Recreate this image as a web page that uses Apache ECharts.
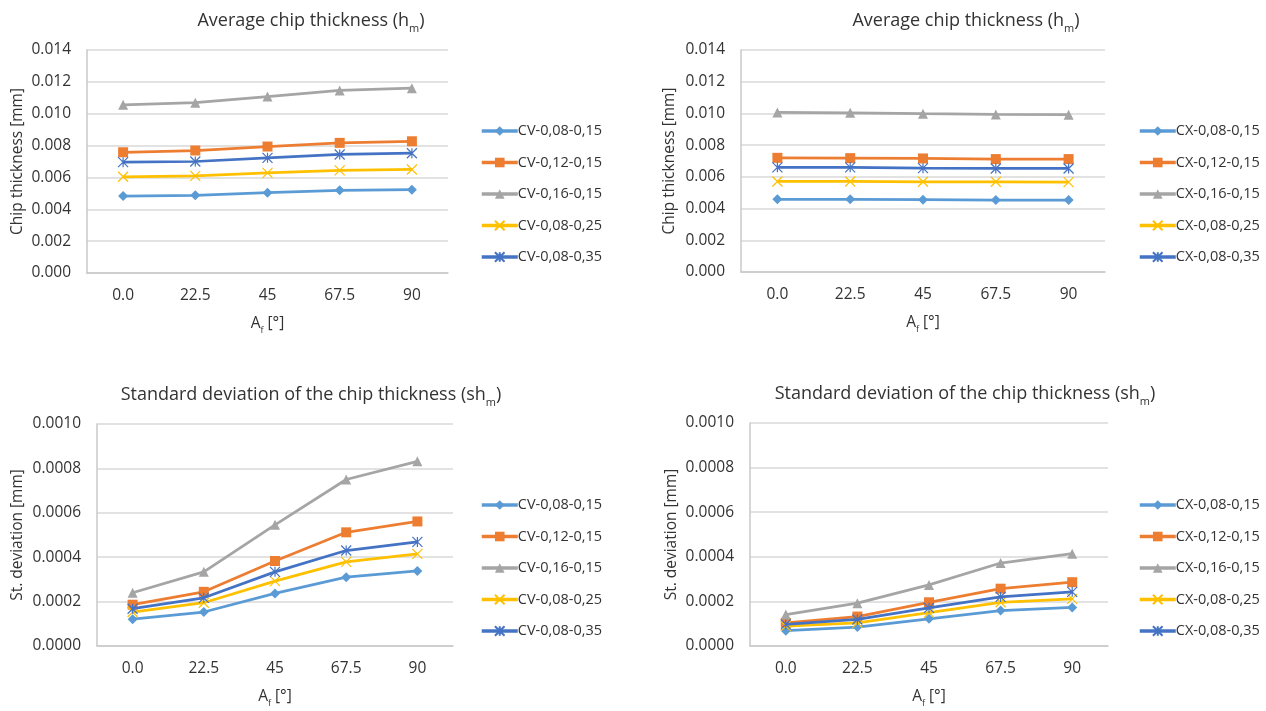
<!DOCTYPE html>
<html>
<head>
<meta charset="utf-8">
<title>Chip thickness</title>
<script src="https://cdn.jsdelivr.net/npm/echarts@6/dist/echarts.min.js"></script>
<style>
  html, body { margin: 0; padding: 0; background: #fff; }
  #chart { width: 1266px; height: 711px; }
</style>
</head>
<body>
<div id="chart"></div>
<script>
// --- data ----------------------------------------------------------------
const categories = ["0.0", "22.5", "45", "67.5", "90"];

const cvNames = ["CV-0,08-0,15", "CV-0,12-0,15", "CV-0,16-0,15", "CV-0,08-0,25", "CV-0,08-0,35"];
const cxNames = ["CX-0,08-0,15", "CX-0,12-0,15", "CX-0,16-0,15", "CX-0,08-0,25", "CX-0,08-0,35"];

// average chip thickness hm [mm], CV
const cvAvg0815 = [0.00483, 0.00488, 0.00504, 0.00519, 0.00523];
const cvAvg1215 = [0.00758, 0.00769, 0.00794, 0.00817, 0.00827];
const cvAvg1615 = [0.01056, 0.01069, 0.01108, 0.01146, 0.0116];
const cvAvg0825 = [0.00604, 0.0061, 0.00629, 0.00644, 0.0065];
const cvAvg0835 = [0.00696, 0.007, 0.00723, 0.00744, 0.00752];

// average chip thickness hm [mm], CX
const cxAvg0815 = [0.00458, 0.00458, 0.00456, 0.00454, 0.00454];
const cxAvg1215 = [0.0072, 0.00718, 0.00716, 0.00712, 0.00712];
const cxAvg1615 = [0.01006, 0.01004, 0.00998, 0.00994, 0.00992];
const cxAvg0825 = [0.00571, 0.00571, 0.00569, 0.00569, 0.00567];
const cxAvg0835 = [0.0066, 0.0066, 0.00655, 0.00653, 0.00653];

// standard deviation shm [mm], CV
const cvStd0815 = [0.000121, 0.000153, 0.000237, 0.00031, 0.000338];
const cvStd1215 = [0.000186, 0.000244, 0.000383, 0.000512, 0.000561];
const cvStd1615 = [0.00024, 0.000334, 0.000546, 0.00075, 0.000832];
const cvStd0825 = [0.000153, 0.000195, 0.000292, 0.000379, 0.000415];
const cvStd0835 = [0.000168, 0.000217, 0.000334, 0.00043, 0.000469];

// standard deviation shm [mm], CX
const cxStd0815 = [0.0000685, 0.0000848, 0.000122, 0.000159, 0.000173];
const cxStd1215 = [0.000104, 0.000132, 0.000196, 0.000257, 0.000286];
const cxStd1615 = [0.000141, 0.000192, 0.000274, 0.000372, 0.000414];
const cxStd0825 = [0.0000893, 0.000104, 0.00015, 0.000196, 0.000211];
const cxStd0835 = [0.0000967, 0.000119, 0.000171, 0.00022, 0.000243];

// --- style ----------------------------------------------------------------
const FONT = "'Open Sans', 'Liberation Sans', sans-serif";
const TEXT = "#333";
const colors = ["#5B9BD5", "#ED7D31", "#A5A5A5", "#FFC000", "#4472C4"];
// Excel-like markers: diamond, square, triangle, x, asterisk
const markers = [
  { symbol: "diamond", size: 10, stroke: 0 },
  { symbol: "rect", size: 10, stroke: 0 },
  { symbol: "triangle", size: 10, stroke: 0 },
  { symbol: "path://M0,0L10,10M0,10L10,0", size: 10, stroke: 1.2 },
  { symbol: "path://M0,0L10,10M0,10L10,0M5,0L5,10", size: 10, stroke: 1.2 },
];

const sub = {
  a: { fontFamily: FONT, fontSize: 18, fontWeight: "normal", color: TEXT, lineHeight: 26 },
  s: { fontFamily: FONT, fontSize: 11, fontWeight: "normal", color: TEXT, lineHeight: 13, verticalAlign: "bottom" },
};
const subSmall = {
  a: { fontFamily: FONT, fontSize: 15.5, color: TEXT, lineHeight: 22 },
  s: { fontFamily: FONT, fontSize: 9, color: TEXT, lineHeight: 10, verticalAlign: "bottom" },
};

// panel layout: grid box, title centre, legend anchor, y name gap
const panels = [
  { grid: { left: 87, top: 50, width: 361, height: 223 }, titleX: 306, titleY: 3,
    legend: { left: 475, top: 117 }, nameGap: 61, digits: 3, max: 0.014, interval: 0.002,
    title: "{a|Average chip thickness (h}{s|m}{a|)}", yName: "Chip thickness [mm]",
    names: cvNames, data: [cvAvg0815, cvAvg1215, cvAvg1615, cvAvg0825, cvAvg0835] },
  { grid: { left: 741, top: 50, width: 364, height: 222 }, titleX: 961, titleY: 3,
    legend: { left: 1133, top: 117 }, nameGap: 63, digits: 3, max: 0.014, interval: 0.002,
    title: "{a|Average chip thickness (h}{s|m}{a|)}", yName: "Chip thickness [mm]",
    names: cxNames, data: [cxAvg0815, cxAvg1215, cxAvg1615, cxAvg0825, cxAvg0835] },
  { grid: { left: 97, top: 424, width: 356, height: 222 }, titleX: 306, titleY: 377,
    legend: { left: 475, top: 491 }, nameGap: 71, digits: 4, max: 0.001, interval: 0.0002,
    title: "{a|Standard deviation of the chip thickness (sh}{s|m}{a|)}", yName: "St. deviation [mm]",
    names: cvNames, data: [cvStd0815, cvStd1215, cvStd1615, cvStd0825, cvStd0835] },
  { grid: { left: 750, top: 423, width: 358, height: 223 }, titleX: 960, titleY: 376,
    legend: { left: 1133, top: 491 }, nameGap: 70, digits: 4, max: 0.001, interval: 0.0002,
    title: "{a|Standard deviation of the chip thickness (sh}{s|m}{a|)}", yName: "St. deviation [mm]",
    names: cxNames, data: [cxStd0815, cxStd1215, cxStd1615, cxStd0825, cxStd0835] },
];

const option = {
  animation: false,
  backgroundColor: "#fff",
  title: [], grid: [], xAxis: [], yAxis: [], legend: [], series: [],
};

panels.forEach((p, i) => {
  option.title.push({
    text: p.title, left: p.titleX, top: p.titleY, textAlign: "center",
    textStyle: { fontWeight: "normal", rich: sub },
  });
  option.grid.push(p.grid);
  option.xAxis.push({
    type: "category", gridIndex: i, data: categories, boundaryGap: true,
    axisLine: { lineStyle: { color: "#c8c8c8", width: 1.5 } },
    axisTick: { show: false },
    axisLabel: { margin: 15, fontFamily: FONT, fontSize: 15.5, color: TEXT },
    name: "{a|A}{s|f}{a| [°]}", nameLocation: "middle", nameGap: 40,
    nameTextStyle: { rich: subSmall },
  });
  option.yAxis.push({
    type: "value", gridIndex: i, min: 0, max: p.max, interval: p.interval,
    axisLine: { show: true, lineStyle: { color: "#c8c8c8", width: 1.5 } },
    axisTick: { show: false },
    splitLine: { lineStyle: { color: "#d9d9d9", width: 1.5 } },
    axisLabel: {
      margin: 16, fontFamily: FONT, fontSize: 15.5, color: TEXT,
      formatter: (v) => v.toFixed(p.digits),
    },
    name: p.yName, nameLocation: "middle", nameGap: p.nameGap,
    nameTextStyle: { fontFamily: FONT, fontSize: 15.5, color: TEXT },
  });
  option.legend.push({
    orient: "vertical", left: p.legend.left, top: p.legend.top,
    data: p.names, itemWidth: 36, itemHeight: 12, itemGap: 13.5,
    lineStyle: { width: 3.5 },
    textStyle: { fontFamily: FONT, fontSize: 14.5, color: TEXT, lineHeight: 18, padding: [0, 0, 0, -5] },
  });
  p.data.forEach((vals, k) => {
    const m = markers[k];
    option.series.push({
      type: "line", name: p.names[k], xAxisIndex: i, yAxisIndex: i,
      data: vals, color: colors[k],
      symbol: m.symbol, symbolSize: m.size, showAllSymbol: true,
      lineStyle: { width: 2.75, color: colors[k] },
      itemStyle: { color: colors[k], borderColor: colors[k], borderWidth: m.stroke },
      z: 2 + k,
    });
  });
});

const chart = echarts.init(document.getElementById("chart"), null, { renderer: "canvas" });
chart.setOption(option);
</script>
</body>
</html>
